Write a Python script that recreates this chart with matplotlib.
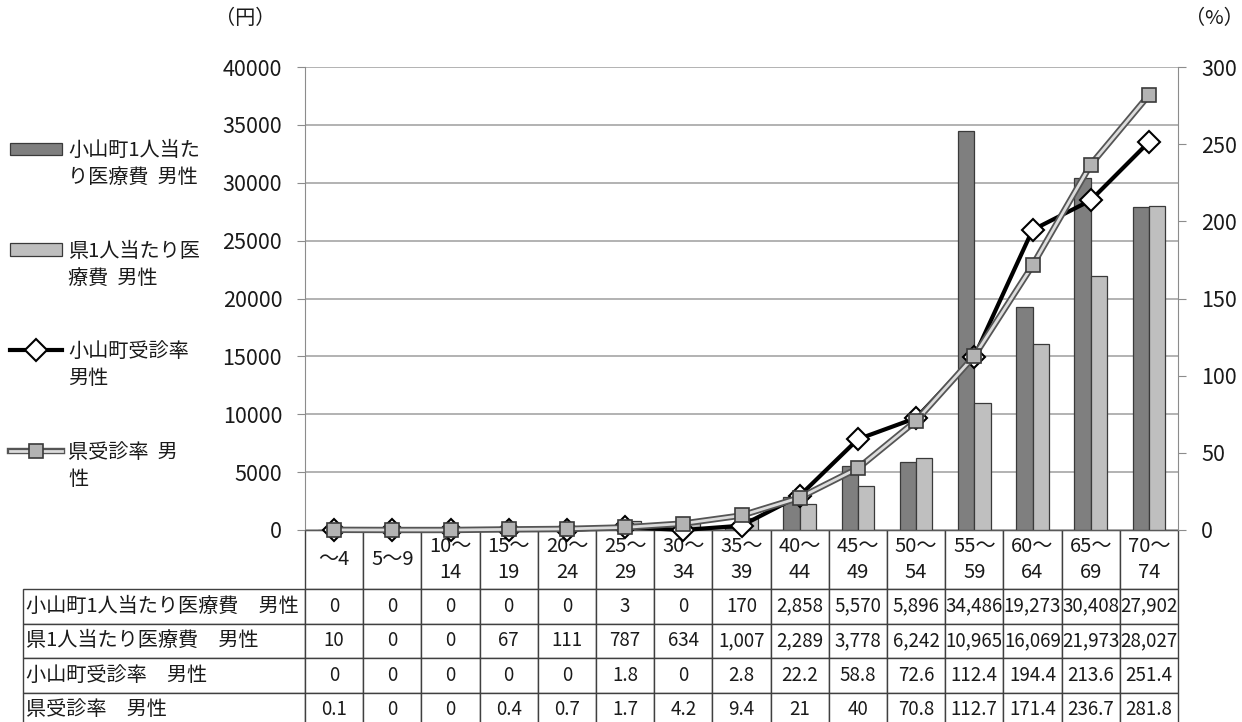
import matplotlib
matplotlib.use('Agg')
import matplotlib.pyplot as plt
import numpy as np
from matplotlib.table import Table
from matplotlib.patches import Patch
from matplotlib.legend_handler import HandlerTuple

plt.rcParams['font.family'] = ['Noto Sans CJK JP', 'DejaVu Sans']

# ---------------- data ----------------
categories = ['～4', '5～9', '10～\n14', '15～\n19', '20～\n24', '25～\n29', '30～\n34',
              '35～\n39', '40～\n44', '45～\n49', '50～\n54', '55～\n59', '60～\n64',
              '65～\n69', '70～\n74']
town_cost = [0, 0, 0, 0, 0, 3, 0, 170, 2858, 5570, 5896, 34486, 19273, 30408, 27902]
pref_cost = [10, 0, 0, 67, 111, 787, 634, 1007, 2289, 3778, 6242, 10965, 16069, 21973, 28027]
town_rate = [0, 0, 0, 0, 0, 1.8, 0, 2.8, 22.2, 58.8, 72.6, 112.4, 194.4, 213.6, 251.4]
pref_rate = [0.1, 0, 0, 0.4, 0.7, 1.7, 4.2, 9.4, 21, 40, 70.8, 112.7, 171.4, 236.7, 281.8]
series_names = ['小山町1人当たり医療費　男性', '県1人当たり医療費　男性',
                '小山町受診率　男性', '県受診率　男性']
legend_lines = [['小山町1人当た', 'り医療費  男性'],
                ['県1人当たり医', '療費  男性'],
                ['小山町受診率', '男性'],
                ['県受診率  男', '性']]
left_ticks = list(range(0, 40001, 5000))
right_ticks = list(range(0, 301, 50))

# ---------------- figure ----------------
W, H = 1242, 722
fig = plt.figure(figsize=(W / 100, H / 100), dpi=100)
fig.patch.set_facecolor('white')
ax_l, ax_r, ax_t, ax_b = 305, 1178, 67, 530
ax = fig.add_axes([ax_l / W, 1 - ax_b / H, (ax_r - ax_l) / W, (ax_b - ax_t) / H])

DARK = '#7f7f7f'
LIGHT = '#bfbfbf'
EDGE = '#3a3a3a'
TXT = '#1a1a1a'
FS = 14.5
FS_NUM = 15.5
FS_TBL = 13.5
FS_HDR = 14.5

x = np.arange(len(categories))
bw = 0.28
ax.bar(x - bw / 2, town_cost, bw, color=DARK, edgecolor=EDGE, linewidth=0.9, zorder=2)
ax.bar(x + bw / 2, pref_cost, bw, color=LIGHT, edgecolor=EDGE, linewidth=0.9, zorder=2)
ax.set_xlim(-0.5, len(categories) - 0.5)
ax.set_ylim(0, 40000)
ax.set_yticks(left_ticks)
ax.set_yticklabels([str(v) for v in left_ticks])
ax.set_xticks([])
ax.yaxis.grid(True, color='#a6a6a6', linewidth=1.2)
ax.set_axisbelow(True)
for s in ['top', 'right']:
    ax.spines[s].set_visible(False)
ax.spines['left'].set_color('#8c8c8c')
ax.spines['bottom'].set_color('#595959')
ax.tick_params(axis='y', direction='out', length=5.5, color='#8c8c8c', pad=11,
               labelsize=FS_NUM, labelcolor=TXT)

ax2 = ax.twinx()
ax2.set_ylim(0, 300)
ax2.set_yticks(right_ticks)
ax2.set_yticklabels([str(v) for v in right_ticks])
for s in ['top', 'left', 'bottom']:
    ax2.spines[s].set_visible(False)
ax2.spines['right'].set_color('#8c8c8c')
ax2.tick_params(axis='y', direction='out', length=5.5, color='#8c8c8c', pad=11,
                labelsize=FS_NUM, labelcolor=TXT)

l1, = ax2.plot(x, town_rate, color='black', lw=3, marker='D', ms=11.5, mfc='white',
               mec='black', mew=1.5, zorder=3, clip_on=False)
l2a, = ax2.plot(x, pref_rate, color='#555555', lw=4.6, zorder=4, clip_on=False)
l2b, = ax2.plot(x, pref_rate, color='#dcdcdc', lw=2.0, marker='s', ms=9.5,
                mfc='#b3b3b3', mec='#3a3a3a', mew=1.2, zorder=5, clip_on=False)

# ---------------- table ----------------
aw = ax_r - ax_l
ah = ax_b - ax_t
col_w = 1 / len(categories)
label_w = (ax_l - 23) / aw
hdr_h = 59 / ah
row_h = 34.5 / ah

def fmt_cost(v):
    return f'{v:,}'

def fmt_rate(v):
    return f'{v:g}'

rows = [(series_names[0], [fmt_cost(v) for v in town_cost]),
        (series_names[1], [fmt_cost(v) for v in pref_cost]),
        (series_names[2], [fmt_rate(v) for v in town_rate]),
        (series_names[3], [fmt_rate(v) for v in pref_rate])]

tbl = Table(ax, bbox=[0, -(hdr_h + 4 * row_h), 1, hdr_h + 4 * row_h])
for j, c in enumerate(categories):
    cell = tbl.add_cell(0, j, width=col_w, height=hdr_h, text=c, loc='center')
for i, (name, vals) in enumerate(rows):
    cell = tbl.add_cell(i + 1, -1, width=label_w, height=row_h, text=name, loc='left')
    cell.PAD = 0.012
    for j, v in enumerate(vals):
        tbl.add_cell(i + 1, j, width=col_w, height=row_h, text=v, loc='center')
tbl.auto_set_font_size(False)
for (r, c), cell in tbl.get_celld().items():
    cell.set_edgecolor('#404040')
    cell.set_linewidth(1.0)
    txt = cell.get_text()
    txt.set_color(TXT)
    if c == -1:
        txt.set_fontsize(FS)
    elif r == 0:
        txt.set_fontsize(FS_HDR)
        txt.set_linespacing(1.35)
    else:
        txt.set_fontsize(FS_TBL)
ax.add_table(tbl)

# ---------------- units ----------------
fig.text(245 / W, 1 - 19 / H, '（円）', ha='center', va='center', fontsize=FS, color=TXT)
fig.text(1214 / W, 1 - 19 / H, '（%）', ha='center', va='center', fontsize=FS, color=TXT)

# ---------------- legend ----------------
handles = [Patch(facecolor=DARK, edgecolor=EDGE, linewidth=0.9),
           Patch(facecolor=LIGHT, edgecolor=EDGE, linewidth=0.9),
           l1, (l2a, l2b)]
leg = fig.legend(handles, [ll[0] for ll in legend_lines], loc='upper left',
                 bbox_to_anchor=(10 / W, 1 - 140 / H), frameon=False, fontsize=FS,
                 handlelength=2.6, handleheight=0.6, handletextpad=0.3,
                 labelspacing=3.95, borderpad=0, borderaxespad=0,
                 handler_map={tuple: HandlerTuple(ndivide=1, pad=0)})
for t in leg.get_texts():
    t.set_color(TXT)

fig.canvas.draw()
for t, ll in zip(leg.get_texts(), legend_lines):
    bb = t.get_window_extent()
    fig.text(bb.x0 / W, (bb.y0 - 27) / H, ll[1], ha='left', va='bottom',
             fontsize=FS, color=TXT)

fig.savefig('out.png', dpi=100, facecolor='white')
